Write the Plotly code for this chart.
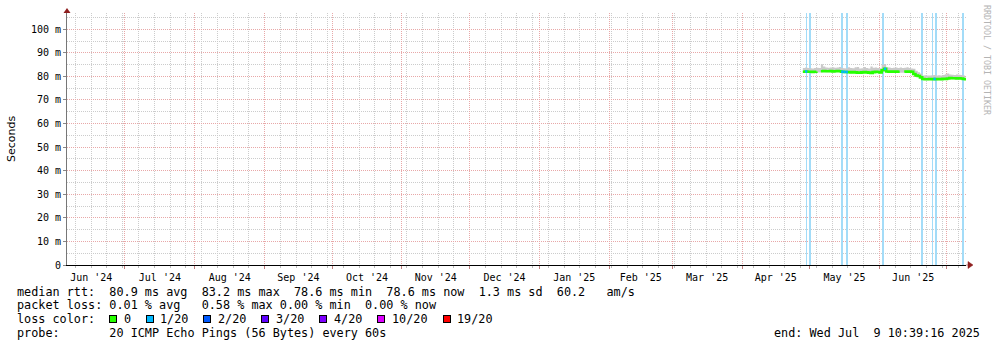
import plotly.graph_objects as go
import pandas as pd

# ---------------- data ----------------
# daily samples starting 2025-04-28
first_day = "2025-04-28"
median_ms = [82.0, 82.1, 82.0, 82.0, 81.9, 82.0, 82.1,
             None,
             82.2, 82.3, 82.2, 82.2, 82.3, 82.1, 82.2, 82.3, 82.2,
             82.0, 81.9, 81.9,
             81.8, 81.7, 81.8, 81.7, 81.6, 81.6, 81.7, 81.8, 81.7, 81.6,
             81.5,
             81.8, 82.0, 81.9, 81.7,
             82.6, 83.2,
             82.1, 82.0, 82.1, 82.0, 82.1, 82.0, 82.0,
             None,
             82.1, 82.0, 82.1, 82.0,
             81.0, 80.4, 80.2, 79.6,
             78.9, 78.8, 78.8, 78.9, 78.8, 78.9, 78.8, 78.9, 78.8, 79.0, 78.9,
             79.1, 79.3, 79.2, 79.2, 79.1, 79.2, 79.1,
             78.9, 78.8]
smoke_hi_ms = [83.6, 83.8, 83.6, 83.5, 83.4, 83.6, 83.7,
               83.6,
               85.2, 84.2, 83.8, 83.7, 83.8, 83.9, 83.7, 83.8, 84.0,
               83.6, 83.5, 83.4,
               83.9, 83.6, 83.5, 83.9, 84.0, 83.4, 83.5, 84.0, 83.6, 83.4,
               84.2,
               83.7, 83.8, 83.6, 83.5,
               85.0, 85.3,
               83.9, 83.8, 83.6, 83.7, 83.8, 83.6, 83.8,
               83.6,
               83.7, 83.9, 83.6, 83.4,
               83.2, 82.4, 81.8, 81.2,
               80.4, 80.5, 80.4, 80.4, 80.5, 80.6, 80.4, 80.5, 80.4, 80.6, 80.9,
               81.2, 80.8, 80.7, 80.6, 80.8, 80.7, 80.6,
               80.4, 80.3]
smoke_lo_ms = [81.6, 81.7, 81.6, 81.6, 81.5, 81.6, 81.7,
               81.7,
               81.8, 81.9, 81.8, 81.8, 81.9, 81.7, 81.8, 81.9, 81.8,
               81.6, 81.5, 81.5,
               81.4, 81.3, 81.4, 81.3, 81.2, 81.2, 81.3, 81.4, 81.3, 81.2,
               81.1,
               81.4, 81.6, 81.5, 81.3,
               82.0, 82.6,
               81.7, 81.6, 81.7, 81.6, 81.7, 81.6, 81.6,
               81.6,
               81.7, 81.6, 81.7, 81.6,
               80.6, 80.0, 79.8, 79.2,
               78.5, 78.4, 78.4, 78.5, 78.4, 78.5, 78.4, 78.5, 78.4, 78.6, 78.5,
               78.7, 78.9, 78.8, 78.8, 78.7, 78.8, 78.7,
               78.5, 78.4]
loss_of_20 = [0, 1, 0, 0, 0, 0, 0,
              0,
              0, 0, 0, 0, 0, 0, 0, 0, 0,
              1, 1, 1,
              0, 0, 0, 0, 0, 0, 0, 0, 0, 0,
              0,
              0, 0, 0, 0,
              0, 1,
              0, 0, 0, 0, 0, 0, 0,
              0,
              0, 0, 0, 0,
              0, 0, 0, 0,
              0, 0, 0, 0, 0, 1, 0, 0, 0, 0, 0,
              0, 0, 0, 0, 0, 0, 0,
              0, 0]
now_time = "2025-07-09 10:39:16"
now_ms = 78.6

loss_event_times = ["2025-04-29 15:00", "2025-05-01 04:00", "2025-05-15 14:00",
                    "2025-05-17 20:00", "2025-06-02 20:00", "2025-06-19 17:00",
                    "2025-06-24 14:00", "2025-06-26 03:00", "2025-07-08 03:00"]
loss_event_hours = [10, 10, 10, 20, 20, 10, 10, 10, 10]

range_start = "2024-06-05 06:00"
range_end = "2025-07-09 10:39:16"
Y_TOP = 106.9

y_tick_vals = [0, 10, 20, 30, 40, 50, 60, 70, 80, 90, 100]
y_tick_text = ["0", "10 m", "20 m", "30 m", "40 m", "50 m", "60 m", "70 m",
               "80 m", "90 m", "100 m"]

rtt_avg, rtt_max, rtt_min, rtt_now, rtt_sd, rtt_ams = 80.9, 83.2, 78.6, 78.6, 1.3, 60.2
loss_avg, loss_max, loss_min, loss_now = 0.01, 0.58, 0.00, 0.00
loss_labels = ["0", "1/20", "2/20", "3/20", "4/20", "10/20", "19/20"]
loss_colors = ["#26ff00", "#00b8ff", "#0059ff", "#5e00ff", "#7e00ff", "#dd00ff", "#ff0000"]
probe_text = "20 ICMP Echo Pings (56 Bytes) every 60s"
end_text = "Wed Jul  9 10:39:16 2025"

# ---------------- figure ----------------
W, H = 997, 347
L, R, T, B = 67, 31, 13, 82
PW, PH = W - L - R, H - T - B


def px(xp):
    return (xp - L) / PW


def py(yp):
    return (H - B - yp) / PH


times = list(pd.date_range(first_day, periods=len(median_ms), freq="D"))
MONO = "DejaVu Sans Mono"

fig = go.Figure()

# smoke
fig.add_trace(go.Scatter(x=times, y=smoke_lo_ms, mode="lines",
                         line=dict(width=0, shape="hv"), hoverinfo="skip",
                         showlegend=False))
fig.add_trace(go.Scatter(x=times, y=smoke_hi_ms, mode="lines",
                         line=dict(width=0, shape="hv"), fill="tonexty",
                         fillcolor="#cacaca", hoverinfo="skip", showlegend=False))

# loss bars (full height)
fig.add_trace(go.Bar(x=pd.to_datetime(loss_event_times), y=[Y_TOP] * len(loss_event_times),
                     width=[h * 3600 * 1000 for h in loss_event_hours],
                     marker=dict(color="#a3dcf8", line=dict(width=0)),
                     showlegend=False, hoverinfo="skip"))

# median (base colour = no loss)
fig.add_trace(go.Scatter(x=times + [pd.Timestamp(now_time)], y=median_ms + [now_ms],
                         mode="lines", line=dict(color=loss_colors[0], width=2.6, shape="hv"),
                         connectgaps=False, showlegend=False, hoverinfo="skip"))

# median segments coloured by loss
for level in sorted(set(loss_of_20)):
    if level == 0:
        continue
    sx, sy = [], []
    for i, lv in enumerate(loss_of_20):
        if lv == level and median_ms[i] is not None:
            t1 = times[i + 1] if i + 1 < len(times) else pd.Timestamp(now_time)
            sx += [times[i], t1, None]
            sy += [median_ms[i], median_ms[i], None]
    fig.add_trace(go.Scatter(x=sx, y=sy, mode="lines",
                             line=dict(color=loss_colors[level], width=2.6),
                             showlegend=False, hoverinfo="skip"))

MAJ = "#e8a8a8"
MIN = "#cccccc"
DASH = "1px,1px"

fig.update_layout(
    width=W, height=H, margin=dict(l=L, r=R, t=T, b=B),
    paper_bgcolor="white", plot_bgcolor="white",
    barmode="overlay", bargap=0,
    font=dict(family=MONO, size=10, color="black"),
    xaxis=dict(type="date", range=[range_start, range_end],
               dtick="M1", tick0="2024-06-01", ticklabelmode="period",
               tickformat="%b '%y", showgrid=True, gridcolor=MAJ, griddash=DASH,
               gridwidth=1, ticks="outside", ticklen=3, tickcolor="#c08080",
               showline=True, linecolor="black", linewidth=1,
               tickfont=dict(family=MONO, size=10, color="black"),
               minor=dict(dtick=7 * 86400000, tick0="2024-06-09", showgrid=True,
                          gridcolor=MIN, griddash=DASH, gridwidth=1,
                          ticks="outside", ticklen=2, tickcolor="#bbbbbb"),
               fixedrange=True, zeroline=False),
    yaxis=dict(range=[0, Y_TOP], tickvals=y_tick_vals, ticktext=y_tick_text,
               showgrid=True, gridcolor=MAJ, griddash=DASH, gridwidth=1,
               ticks="outside", ticklen=3, tickcolor="#888888",
               showline=True, linecolor="#777777", linewidth=1, zeroline=False,
               tickfont=dict(family=MONO, size=10, color="black"),
               minor=dict(dtick=5, showgrid=True, gridcolor=MIN, griddash=DASH,
                          gridwidth=1),
               fixedrange=True),
)

ARROW = "#8f1f1f"
fig.add_shape(type="path", xref="paper", yref="paper", xsizemode="pixel", ysizemode="pixel",
              xanchor=0, yanchor=1, path="M -3.5,0 L 3.5,0 L 0,5 Z",
              fillcolor=ARROW, line=dict(width=0))
fig.add_shape(type="path", xref="paper", yref="paper", xsizemode="pixel", ysizemode="pixel",
              xanchor=1, yanchor=0, path="M 0,0 L 2,0 M 2,-3.5 L 2,3.5 L 7,0 Z",
              fillcolor=ARROW, line=dict(width=0.5, color=ARROW))

NB = "\u00a0"


def txt(s):
    return s.replace(" ", NB)


LEG = dict(family=MONO, size=11.8, color="black")
row1 = (f"median rtt:  {rtt_avg:.1f} ms avg  {rtt_max:.1f} ms max  {rtt_min:.1f} ms min  "
        f"{rtt_now:.1f} ms now  {rtt_sd:.1f} ms sd  {rtt_ams:.1f}   am/s")
row2 = (f"packet loss: {loss_avg:.2f} % avg   {loss_max:.2f} % max {loss_min:.2f} % min  "
        f"{loss_now:.2f} % now")
row4 = f"probe:       {probe_text}"
ann = [
    dict(text=txt(row1), x=px(16), y=py(291.7)),
    dict(text=txt(row2), x=px(16), y=py(305.2)),
    dict(text=txt("loss color:"), x=px(16), y=py(319.3)),
    dict(text=txt(row4), x=px(16), y=py(332.8)),
    dict(text=txt("end: " + end_text), x=px(981), y=py(332.8), xanchor="right"),
]
for a in ann:
    a.setdefault("xanchor", "left")
    fig.add_annotation(xref="paper", yref="paper", yanchor="middle", showarrow=False,
                       borderpad=0, font=LEG, **a)

sq_centers = [112.5, 149.5, 206.5, 265, 322.5, 381, 446.5]
lab_left = [123, 159, 217, 275, 333, 391, 456]
for c, lab, xc, xl in zip(loss_colors, loss_labels, sq_centers, lab_left):
    fig.add_annotation(xref="paper", yref="paper", x=px(xc), y=py(319.3), text=NB,
                       showarrow=False, width=6, height=6, borderpad=0, borderwidth=1,
                       bordercolor="black", bgcolor=c, font=dict(size=2),
                       xanchor="center", yanchor="middle")
    fig.add_annotation(xref="paper", yref="paper", x=px(xl), y=py(319.3), text=txt(lab),
                       showarrow=False, borderpad=0, font=LEG,
                       xanchor="left", yanchor="middle")

fig.add_annotation(xref="paper", yref="paper", x=px(11), y=py(139), text="Seconds",
                   textangle=-90, showarrow=False, borderpad=0,
                   xanchor="center", yanchor="middle",
                   font=dict(family="DejaVu Sans", size=11, color="black"))
fig.add_annotation(xref="paper", yref="paper", x=px(987), y=py(60),
                   text=txt("RRDTOOL / TOBI OETIKER"), textangle=90, showarrow=False,
                   borderpad=0, xanchor="center", yanchor="middle",
                   font=dict(family=MONO, size=8.3, color="#b4b4b4"))

fig.write_html("out.html")
